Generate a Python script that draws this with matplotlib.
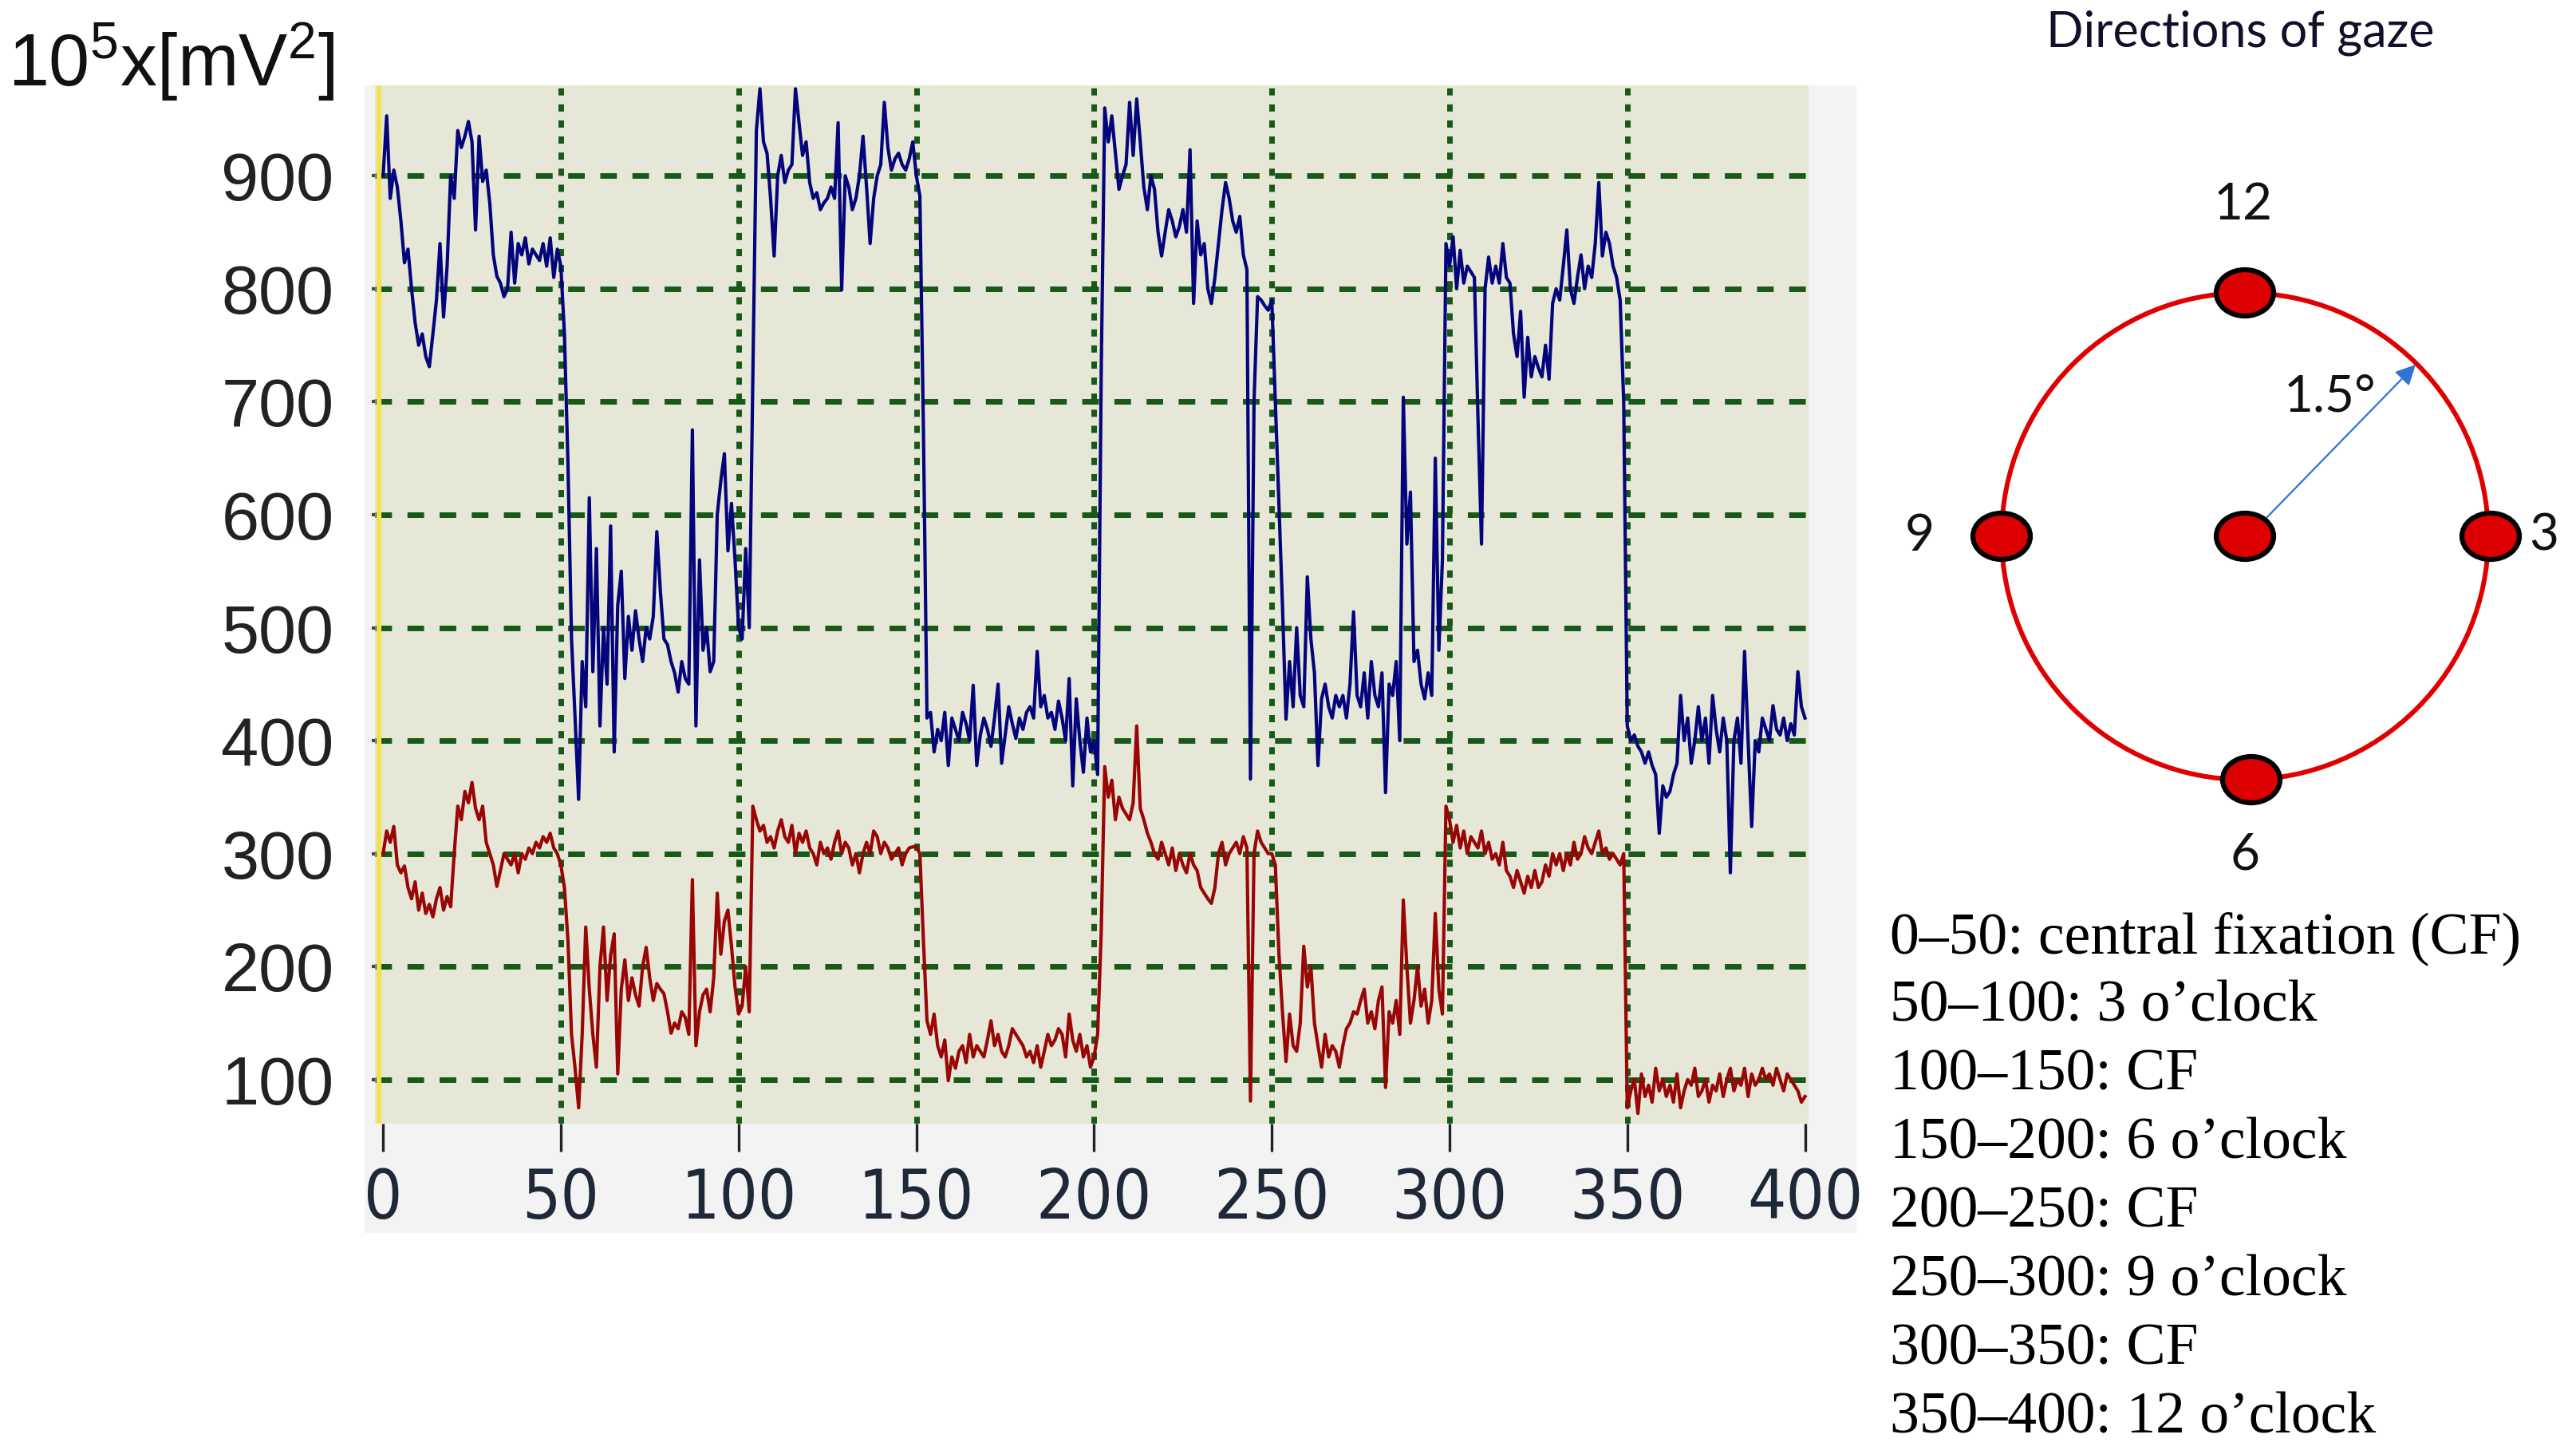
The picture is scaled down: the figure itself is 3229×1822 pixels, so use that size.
import numpy as np
import matplotlib
matplotlib.use('Agg')
import matplotlib.pyplot as plt
from matplotlib import font_manager
from matplotlib.patches import Ellipse, Circle

# ---- data (one sample per x unit, 0..400) ----
blue = [
    900, 953, 880, 905, 890, 860, 823, 835, 800, 770,
    750, 760, 740, 731, 760, 790, 840, 775, 820, 900,
    880, 940, 925, 935, 948, 930, 852, 935, 895, 905,
    876, 830, 811, 805, 793, 800, 850, 805, 840, 830,
    845, 822, 835, 830, 825, 840, 820, 845, 810, 835,
    820, 760, 645, 490, 420, 348, 470, 430, 615, 461,
    570, 413, 500, 450, 590, 390, 520, 550, 455, 510,
    480, 515, 490, 470, 500, 490, 510, 585, 532, 490,
    485, 470, 460, 443, 470, 455, 450, 675, 413, 560,
    480, 500, 461, 470, 600, 630, 654, 568, 610, 560,
    500, 490, 570, 500, 720, 940, 977, 930, 920, 880,
    829, 900, 918, 894, 905, 910, 977, 947, 918, 930,
    894, 880, 885, 870, 876, 880, 890, 880, 947, 799,
    900, 890, 870, 880, 900, 935, 890, 840, 880, 900,
    910, 965, 925, 905, 915, 920, 910, 905, 915, 930,
    900, 882, 675, 420, 425, 390, 410, 400, 425, 378,
    420, 410, 400, 425, 415, 400, 449, 378, 405, 420,
    410, 395, 420, 450, 380, 405, 430, 415, 402, 420,
    410, 425, 430, 420, 479, 430, 440, 420, 425, 410,
    435, 420, 400, 455, 360, 437, 400, 372, 420, 390,
    400, 370, 722, 960, 930, 953, 920, 888, 900, 910,
    965, 918, 968, 930, 890, 870, 900, 888, 850, 829,
    850, 870, 860, 846, 855, 870, 850, 923, 787, 860,
    830, 840, 800, 787, 810, 840, 870, 894, 880, 860,
    850, 864, 830, 817, 366, 700, 793, 790, 785, 781,
    790, 700, 609, 520, 419, 470, 430, 500, 440, 430,
    545, 490, 460, 378, 437, 450, 430, 420, 440, 430,
    440, 420, 450, 514, 440, 430, 460, 420, 470, 440,
    430, 460, 354, 450, 440, 470, 400, 704, 574, 620,
    470, 480, 450, 437, 460, 440, 650, 480, 560, 840,
    820, 846, 800, 834, 805, 820, 815, 810, 686, 574,
    800, 828, 805, 820, 805, 840, 810, 805, 760, 740,
    780, 704, 757, 722, 740, 730, 722, 750, 720, 787,
    800, 790, 820, 852, 800, 787, 810, 830, 800, 820,
    810, 840, 894, 829, 850, 840, 820, 810, 790, 700,
    413, 400, 405, 395, 390, 380, 390, 378, 370, 318,
    360, 350, 355, 370, 380, 440, 400, 420, 380, 400,
    430, 400, 420, 380, 440, 410, 390, 420, 400, 283,
    400, 420, 380, 479, 400, 324, 400, 390, 420, 410,
    400, 431, 410, 405, 420, 400, 415, 405, 461, 430,
    420,
]

red = [
    300, 320, 310, 324, 290, 283, 289, 270, 260, 275,
    250, 265, 247, 255, 244, 260, 270, 250, 262, 253,
    300, 342, 330, 355, 345, 363, 340, 330, 342, 310,
    300, 290, 271, 285, 300, 295, 290, 300, 283, 300,
    295, 305, 300, 310, 305, 315, 310, 318, 305, 300,
    290, 270, 223, 140, 110, 75, 140, 235, 180, 140,
    111, 200, 235, 170, 210, 229, 105, 180, 206, 170,
    190, 175, 165, 200, 217, 190, 170, 185, 180, 176,
    160, 141, 150, 145, 160, 155, 140, 277, 130, 160,
    175, 180, 160, 190, 265, 211, 240, 250, 218, 182,
    158, 165, 200, 160, 342, 330, 320, 325, 310, 315,
    305, 320, 330, 315, 310, 325, 300, 318, 310, 320,
    305, 300, 290, 310, 300, 305, 295, 310, 320, 300,
    310, 305, 290, 300, 283, 300, 310, 300, 320, 315,
    300, 310, 305, 295, 300, 305, 290, 300, 305, 306,
    306, 300, 223, 152, 140, 158, 130, 120, 135, 99,
    120, 110, 125, 130, 115, 140, 120, 130, 125, 120,
    135, 152, 130, 140, 125, 120, 130, 145, 140, 135,
    130, 120, 125, 115, 130, 111, 125, 140, 130, 135,
    145, 140, 120, 158, 135, 125, 140, 120, 130, 111,
    120, 140, 229, 377, 350, 365, 330, 350, 340, 335,
    330, 345, 413, 340, 330, 318, 310, 300, 295, 310,
    300, 290, 305, 285, 300, 290, 283, 300, 290, 285,
    270, 265, 260, 256, 270, 300, 310, 290, 300, 305,
    310, 300, 315, 305, 81, 300, 320, 310, 305, 300,
    300, 290, 212, 160, 116, 158, 130, 125, 150, 218,
    182, 200, 150, 130, 111, 140, 120, 130, 125, 111,
    130, 145, 150, 160, 158, 170, 180, 150, 160, 145,
    170, 182, 93, 160, 150, 170, 140, 259, 200, 150,
    170, 200, 165, 180, 150, 170, 247, 180, 158, 342,
    330, 310, 325, 305, 320, 300, 315, 310, 305, 320,
    300, 310, 295, 300, 290, 310, 285, 280, 270, 285,
    275, 265, 280, 270, 285, 270, 275, 290, 280, 300,
    290, 300, 285, 300, 290, 310, 295, 300, 315, 305,
    300, 310, 320, 300, 305, 295, 300, 295, 290, 300,
    75, 90, 100, 70, 105, 85, 95, 80, 110, 90,
    100, 85, 95, 80, 105, 75, 90, 100, 95, 110,
    85, 90, 100, 80, 95, 90, 105, 85, 100, 110,
    90, 100, 95, 110, 85, 105, 95, 100, 110, 100,
    105, 95, 110, 100, 90, 105, 100, 95, 90, 80,
    85,
]
assert len(blue) == 401 and len(red) == 401
t = np.arange(len(blue))

xticks = [0, 50, 100, 150, 200, 250, 300, 350, 400]
yticks = [100, 200, 300, 400, 500, 600, 700, 800, 900]
legend_lines = [
    "0\u201350: central fixation (CF)",
    "50\u2013100: 3 o\u2019clock",
    "100\u2013150: CF",
    "150\u2013200: 6 o\u2019clock",
    "200\u2013250: CF",
    "250\u2013300: 9 o\u2019clock",
    "300\u2013350: CF",
    "350\u2013400: 12 o\u2019clock",
]


def pick(*names):
    avail = {f.name for f in font_manager.fontManager.ttflist}
    for n in names:
        if n in avail:
            return n
    return 'DejaVu Sans'


sans = pick('Liberation Sans')
calib = pick('Lato', 'Open Sans')
serif = pick('Liberation Serif')

plt.rcParams['mathtext.fontset'] = 'custom'
plt.rcParams['mathtext.rm'] = sans
plt.rcParams['mathtext.it'] = sans

W, H = 3229, 1822
fig = plt.figure(figsize=(W / 100, H / 100), dpi=100)
fig.patch.set_facecolor('white')

# light grey panel behind the chart screenshot (its own axes, under the chart)
bg = fig.add_axes([457 / W, 1 - 1545 / H, (2327 - 457) / W, (1545 - 107) / H], zorder=0)
bg.set_facecolor('#f3f3f3')
bg.set_xticks([])
bg.set_yticks([])
for s in bg.spines.values():
    s.set_visible(False)

ax = fig.add_axes([470 / W, 1 - 1408 / H, (2267 - 470) / W, (1408 - 107) / H], zorder=1)
ax.set_facecolor('#e7e7d7')
ax.set_xlim(-2.3, 401)
ax.set_ylim(61, 980)
for s in ax.spines.values():
    s.set_visible(False)

green = '#185818'
for v in yticks:
    ax.axhline(v, color=green, lw=5.0, ls=(0, (3.0, 2.8)), zorder=1)
for v in xticks[1:-1]:
    ax.axvline(v, color=green, lw=5.0, ls=(0, (1.3, 1.6)), zorder=1)
ax.axvline(-1.2, color='#f2e052', lw=4.5, zorder=1)

ax.plot(t, blue, color='#04047c', lw=3.0, zorder=3)
ax.plot(t, red, color='#980606', lw=3.0, zorder=3)

ax.set_xticks(xticks)
ax.set_yticks(yticks)
ax.tick_params(axis='x', direction='out', length=25, width=2.4, color='#222222',
               pad=14, labelsize=61, labelcolor='#1e2836')
ax.tick_params(axis='y', direction='out', length=3, width=3, color='#444444',
               pad=34, labelsize=61, labelcolor='#222222')
for lab in ax.get_xticklabels():
    lab.set_fontfamily('DejaVu Sans')
    lab.set_fontstretch('condensed')
for lab in ax.get_yticklabels():
    lab.set_fontfamily(sans)

fig.text(10 / W, 1 - 78 / H, r'10$^{5}$x[mV$^{2}$]', fontsize=66, family=sans,
         ha='left', va='center', color='#111111')

# ---- gaze diagram and key, drawn in pixel coordinates ----
ov = fig.add_axes([0, 0, 1, 1], facecolor='none', zorder=2)
ov.set_xlim(0, W)
ov.set_ylim(H, 0)
ov.axis('off')

cx, cy, R = 2814, 672, 305
ov.add_patch(Circle((cx, cy), R, fill=False, ec='#e00000', lw=4.3))
ov.annotate('', xy=(3028, 457), xytext=(cx + 22, cy - 18),
            arrowprops=dict(arrowstyle='-|>', color='#2f74d0', lw=1.6,
                            mutation_scale=38, shrinkA=0, shrinkB=0))
for dx, dy in [(0, 0), (0, -R), (8, R), (-R, 0), (R + 3, 0)]:
    ov.add_patch(Ellipse((cx + dx, cy + dy), 72, 58, fc='#dc0000', ec='black', lw=4.5, zorder=4))

ov.text(2808, 41, 'Directions of gaze', fontsize=44, family=calib, color='#10102a',
        ha='center', va='center')
lab_kw = dict(fontsize=46, family=calib, color='#111111', ha='center', va='center')
ov.text(cx - 2, 257, '12', **lab_kw)
ov.text(2406, cy, '9', **lab_kw)
ov.text(3189, cy, '3', **lab_kw)
ov.text(cx, 1071, '6', **lab_kw)
ov.text(2921, 497, '1.5\u00b0', **lab_kw)

for i, line in enumerate(legend_lines):
    ov.text(2369, 1176 + i * 86.0, line, fontsize=53, family=serif, color='black',
            ha='left', va='center')

fig.savefig('out.png', dpi=100, facecolor='white')
